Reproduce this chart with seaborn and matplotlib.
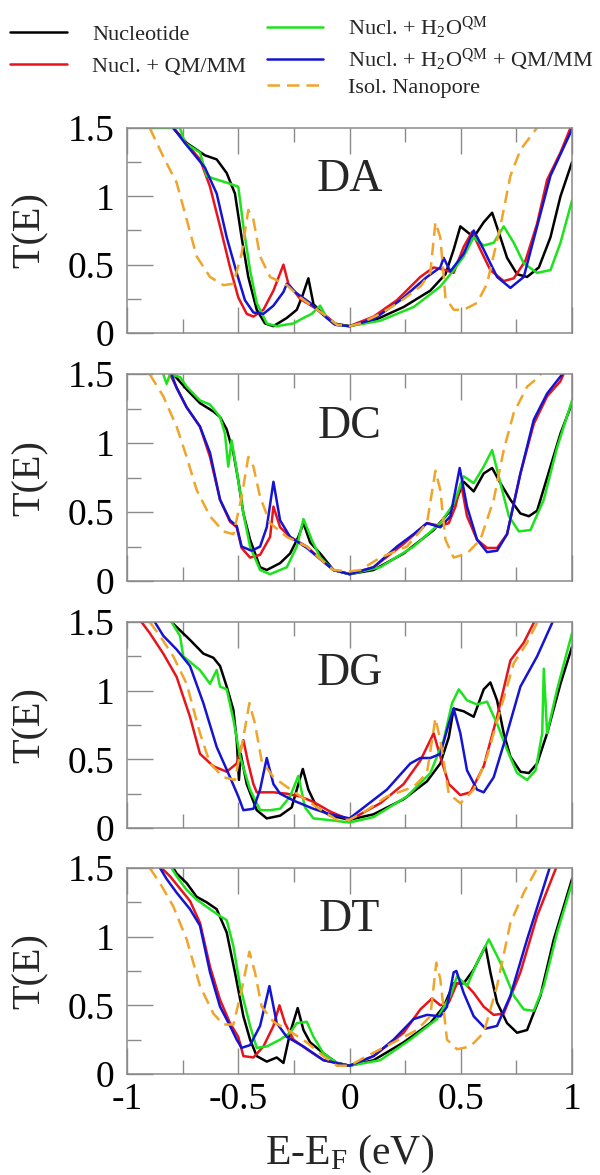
import matplotlib
matplotlib.use("Agg")
import matplotlib.pyplot as plt
from matplotlib.lines import Line2D
from matplotlib.ticker import MultipleLocator, FuncFormatter
import seaborn as sns

# ---- transmission curves (E-E_F in eV, T(E)) ----

# DA
da_nuc_x = [-0.792, -0.732, -0.650, -0.597, -0.552, -0.515, -0.485, -0.455, -0.417, -0.380, -0.342, -0.282, -0.237, -0.210, -0.185, -0.162, -0.125, -0.072, 0.0, 0.108, 0.243, 0.363, 0.431, 0.468, 0.498, 0.536, 0.558, 0.603, 0.641, 0.678, 0.708, 0.753, 0.798, 0.851, 0.903, 0.948, 1.0]
da_nuc_y = [1.50, 1.39, 1.30, 1.27, 1.17, 1.02, 0.70, 0.41, 0.17, 0.07, 0.05, 0.11, 0.17, 0.28, 0.40, 0.21, 0.15, 0.07, 0.05, 0.09, 0.19, 0.31, 0.43, 0.61, 0.78, 0.73, 0.70, 0.81, 0.88, 0.70, 0.55, 0.43, 0.41, 0.48, 0.70, 1.00, 1.25]
da_qmmm_x = [-0.792, -0.740, -0.672, -0.627, -0.582, -0.537, -0.500, -0.462, -0.432, -0.387, -0.342, -0.297, -0.275, -0.222, -0.162, -0.102, -0.057, 0.0, 0.108, 0.213, 0.318, 0.378, 0.431, 0.468, 0.513, 0.551, 0.588, 0.633, 0.693, 0.738, 0.791, 0.843, 0.888, 0.948, 0.993]
da_qmmm_y = [1.50, 1.40, 1.27, 1.07, 0.78, 0.48, 0.26, 0.14, 0.12, 0.17, 0.31, 0.50, 0.36, 0.25, 0.19, 0.12, 0.06, 0.05, 0.12, 0.24, 0.41, 0.48, 0.46, 0.44, 0.63, 0.74, 0.61, 0.46, 0.38, 0.40, 0.53, 0.80, 1.12, 1.32, 1.50]
da_h2o_x = [-0.898, -0.762, -0.740, -0.672, -0.642, -0.612, -0.552, -0.500, -0.477, -0.447, -0.417, -0.372, -0.327, -0.252, -0.207, -0.170, -0.132, -0.102, -0.057, 0.0, 0.138, 0.288, 0.408, 0.468, 0.513, 0.558, 0.603, 0.648, 0.693, 0.738, 0.783, 0.843, 0.903, 0.948, 1.0]
da_h2o_y = [1.50, 1.50, 1.39, 1.32, 1.15, 1.13, 1.10, 1.07, 0.78, 0.46, 0.22, 0.07, 0.05, 0.07, 0.11, 0.14, 0.20, 0.11, 0.06, 0.05, 0.09, 0.19, 0.34, 0.46, 0.56, 0.70, 0.64, 0.66, 0.78, 0.66, 0.51, 0.44, 0.46, 0.66, 0.97]
da_h2o_qmmm_x = [-0.792, -0.740, -0.650, -0.597, -0.552, -0.507, -0.470, -0.432, -0.387, -0.342, -0.297, -0.282, -0.237, -0.177, -0.117, -0.065, 0.0, 0.108, 0.228, 0.348, 0.408, 0.423, 0.453, 0.513, 0.558, 0.603, 0.663, 0.723, 0.783, 0.843, 0.903, 1.0]
da_h2o_qmmm_y = [1.50, 1.39, 1.21, 1.02, 0.70, 0.44, 0.24, 0.15, 0.14, 0.20, 0.30, 0.36, 0.29, 0.22, 0.13, 0.06, 0.05, 0.10, 0.24, 0.41, 0.48, 0.55, 0.45, 0.58, 0.75, 0.61, 0.41, 0.33, 0.41, 0.78, 1.15, 1.49]
da_pore_x = [-0.898, -0.837, -0.777, -0.732, -0.687, -0.627, -0.567, -0.522, -0.485, -0.455, -0.432, -0.402, -0.357, -0.282, -0.222, -0.162, -0.102, -0.057, 0.0, 0.048, 0.138, 0.228, 0.318, 0.363, 0.386, 0.408, 0.431, 0.468, 0.513, 0.573, 0.618, 0.678, 0.723, 0.768, 0.851]
da_pore_y = [1.50, 1.29, 1.10, 0.83, 0.56, 0.41, 0.35, 0.36, 0.58, 0.90, 0.83, 0.56, 0.41, 0.35, 0.26, 0.19, 0.12, 0.06, 0.05, 0.07, 0.14, 0.23, 0.34, 0.44, 0.81, 0.70, 0.26, 0.17, 0.17, 0.22, 0.36, 0.78, 1.15, 1.34, 1.52]

# DC
dc_nuc_x = [-0.792, -0.770, -0.732, -0.672, -0.612, -0.582, -0.552, -0.522, -0.500, -0.477, -0.447, -0.402, -0.372, -0.312, -0.267, -0.230, -0.207, -0.177, -0.132, -0.072, 0.0, 0.108, 0.243, 0.378, 0.453, 0.483, 0.513, 0.558, 0.603, 0.641, 0.678, 0.723, 0.768, 0.806, 0.843, 0.903, 0.948, 1.0]
dc_nuc_y = [1.50, 1.46, 1.39, 1.29, 1.23, 1.19, 1.10, 0.93, 0.73, 0.49, 0.30, 0.10, 0.08, 0.13, 0.20, 0.32, 0.42, 0.28, 0.20, 0.08, 0.05, 0.08, 0.20, 0.37, 0.51, 0.60, 0.72, 0.65, 0.78, 0.82, 0.71, 0.59, 0.49, 0.47, 0.51, 0.83, 1.07, 1.29]
dc_qmmm_x = [-0.807, -0.732, -0.672, -0.627, -0.582, -0.537, -0.507, -0.485, -0.447, -0.402, -0.357, -0.342, -0.312, -0.267, -0.192, -0.132, -0.072, 0.0, 0.108, 0.243, 0.348, 0.408, 0.446, 0.476, 0.501, 0.528, 0.573, 0.618, 0.663, 0.708, 0.768, 0.828, 0.888, 0.948, 0.975]
dc_qmmm_y = [1.50, 1.26, 1.12, 0.90, 0.59, 0.43, 0.39, 0.24, 0.17, 0.19, 0.32, 0.54, 0.39, 0.32, 0.25, 0.16, 0.08, 0.05, 0.10, 0.27, 0.42, 0.40, 0.42, 0.54, 0.71, 0.47, 0.30, 0.24, 0.24, 0.34, 0.78, 1.14, 1.34, 1.45, 1.55]
dc_h2o_x = [-0.837, -0.822, -0.807, -0.762, -0.732, -0.672, -0.627, -0.582, -0.560, -0.545, -0.530, -0.507, -0.477, -0.447, -0.402, -0.357, -0.282, -0.237, -0.207, -0.170, -0.132, -0.072, 0.0, 0.138, 0.288, 0.408, 0.468, 0.513, 0.558, 0.603, 0.641, 0.678, 0.716, 0.761, 0.813, 0.873, 0.933, 1.0]
dc_h2o_y = [1.50, 1.43, 1.50, 1.48, 1.41, 1.31, 1.28, 1.19, 1.07, 0.83, 1.02, 0.80, 0.49, 0.25, 0.08, 0.05, 0.10, 0.25, 0.45, 0.30, 0.17, 0.08, 0.05, 0.10, 0.25, 0.42, 0.56, 0.76, 0.71, 0.83, 0.95, 0.71, 0.47, 0.36, 0.37, 0.59, 0.97, 1.31]
dc_h2o_qmmm_x = [-0.800, -0.777, -0.732, -0.672, -0.627, -0.582, -0.537, -0.507, -0.485, -0.440, -0.402, -0.372, -0.342, -0.312, -0.267, -0.192, -0.132, -0.072, 0.0, 0.108, 0.213, 0.288, 0.348, 0.408, 0.453, 0.476, 0.495, 0.528, 0.573, 0.618, 0.663, 0.708, 0.768, 0.828, 0.888, 0.956]
dc_h2o_qmmm_y = [1.50, 1.40, 1.26, 1.12, 0.93, 0.59, 0.44, 0.40, 0.25, 0.22, 0.25, 0.39, 0.72, 0.44, 0.32, 0.24, 0.16, 0.08, 0.05, 0.10, 0.25, 0.34, 0.42, 0.39, 0.47, 0.66, 0.82, 0.54, 0.30, 0.21, 0.22, 0.34, 0.78, 1.17, 1.36, 1.50]
dc_pore_x = [-0.898, -0.837, -0.777, -0.732, -0.687, -0.627, -0.567, -0.522, -0.485, -0.455, -0.432, -0.402, -0.357, -0.282, -0.192, -0.117, -0.072, 0.0, 0.048, 0.138, 0.258, 0.348, 0.386, 0.408, 0.431, 0.468, 0.528, 0.588, 0.648, 0.693, 0.738, 0.798, 0.851, 0.870]
dc_pore_y = [1.50, 1.34, 1.12, 0.90, 0.66, 0.47, 0.36, 0.34, 0.61, 0.90, 0.83, 0.61, 0.42, 0.32, 0.25, 0.14, 0.08, 0.07, 0.08, 0.17, 0.25, 0.42, 0.80, 0.66, 0.30, 0.17, 0.20, 0.30, 0.59, 0.95, 1.22, 1.41, 1.48, 1.53]

# DG
dg_nuc_x = [-0.800, -0.762, -0.717, -0.657, -0.612, -0.582, -0.552, -0.522, -0.507, -0.497, -0.489, -0.462, -0.417, -0.372, -0.312, -0.260, -0.230, -0.210, -0.185, -0.147, -0.087, 0.0, 0.108, 0.243, 0.348, 0.408, 0.446, 0.468, 0.513, 0.558, 0.603, 0.633, 0.663, 0.693, 0.723, 0.768, 0.806, 0.843, 0.888, 0.948, 1.0]
dg_nuc_y = [1.50, 1.44, 1.37, 1.27, 1.24, 1.18, 1.03, 0.86, 0.64, 0.35, 0.54, 0.32, 0.13, 0.07, 0.09, 0.15, 0.32, 0.43, 0.28, 0.15, 0.09, 0.06, 0.10, 0.21, 0.34, 0.47, 0.66, 0.87, 0.85, 0.81, 1.01, 1.06, 0.93, 0.69, 0.52, 0.41, 0.40, 0.47, 0.69, 1.05, 1.32]
dg_qmmm_x = [-0.935, -0.898, -0.837, -0.777, -0.717, -0.672, -0.612, -0.552, -0.507, -0.477, -0.455, -0.432, -0.417, -0.342, -0.282, -0.222, -0.162, -0.087, 0.0, 0.048, 0.138, 0.243, 0.318, 0.378, 0.408, 0.446, 0.498, 0.543, 0.603, 0.663, 0.723, 0.783, 0.836]
dg_qmmm_y = [1.50, 1.42, 1.27, 1.10, 0.81, 0.54, 0.45, 0.41, 0.47, 0.64, 0.47, 0.32, 0.26, 0.26, 0.25, 0.23, 0.19, 0.12, 0.06, 0.10, 0.18, 0.32, 0.49, 0.69, 0.52, 0.32, 0.24, 0.26, 0.45, 0.81, 1.22, 1.35, 1.52]
dg_h2o_x = [-0.800, -0.762, -0.747, -0.717, -0.672, -0.627, -0.597, -0.582, -0.552, -0.522, -0.492, -0.447, -0.402, -0.357, -0.312, -0.267, -0.230, -0.200, -0.162, -0.102, 0.0, 0.108, 0.258, 0.363, 0.423, 0.461, 0.491, 0.528, 0.573, 0.618, 0.663, 0.708, 0.753, 0.798, 0.836, 0.866, 0.873, 0.888, 0.933, 1.0]
dg_h2o_y = [1.50, 1.40, 1.25, 1.21, 1.15, 1.05, 1.15, 1.03, 1.01, 0.79, 0.52, 0.28, 0.13, 0.13, 0.14, 0.23, 0.38, 0.15, 0.07, 0.06, 0.04, 0.08, 0.23, 0.40, 0.64, 0.91, 1.01, 0.93, 0.90, 0.92, 0.76, 0.57, 0.40, 0.35, 0.42, 0.69, 1.16, 0.69, 1.01, 1.42]
dg_h2o_qmmm_x = [-0.875, -0.837, -0.777, -0.717, -0.657, -0.597, -0.537, -0.500, -0.477, -0.432, -0.402, -0.372, -0.342, -0.312, -0.252, -0.162, -0.087, 0.0, 0.048, 0.168, 0.273, 0.318, 0.363, 0.408, 0.446, 0.468, 0.498, 0.528, 0.573, 0.603, 0.648, 0.708, 0.768, 0.843, 0.918]
dg_h2o_qmmm_y = [1.50, 1.40, 1.30, 1.18, 0.91, 0.59, 0.37, 0.23, 0.13, 0.14, 0.28, 0.51, 0.32, 0.25, 0.20, 0.14, 0.10, 0.07, 0.13, 0.28, 0.47, 0.51, 0.51, 0.54, 0.76, 0.87, 0.69, 0.42, 0.28, 0.26, 0.37, 0.69, 1.03, 1.25, 1.52]
dg_pore_x = [-0.898, -0.852, -0.792, -0.732, -0.672, -0.627, -0.567, -0.515, -0.477, -0.450, -0.425, -0.395, -0.342, -0.282, -0.192, -0.117, -0.057, 0.0, 0.078, 0.168, 0.288, 0.348, 0.386, 0.408, 0.446, 0.498, 0.558, 0.618, 0.678, 0.738, 0.798, 0.851]
dg_pore_y = [1.50, 1.40, 1.25, 1.05, 0.69, 0.47, 0.37, 0.35, 0.66, 0.91, 0.76, 0.49, 0.37, 0.30, 0.20, 0.12, 0.06, 0.06, 0.13, 0.23, 0.30, 0.40, 0.80, 0.64, 0.25, 0.18, 0.28, 0.52, 0.86, 1.20, 1.35, 1.52]

# DT
dt_nuc_x = [-0.792, -0.777, -0.732, -0.687, -0.642, -0.597, -0.552, -0.515, -0.477, -0.447, -0.417, -0.372, -0.327, -0.297, -0.267, -0.233, -0.207, -0.177, -0.117, -0.057, 0.0, 0.108, 0.243, 0.363, 0.423, 0.468, 0.513, 0.558, 0.611, 0.633, 0.663, 0.708, 0.753, 0.798, 0.858, 0.918, 1.0]
dt_nuc_y = [1.50, 1.46, 1.39, 1.29, 1.25, 1.20, 1.03, 0.74, 0.42, 0.25, 0.13, 0.09, 0.12, 0.08, 0.30, 0.48, 0.32, 0.23, 0.15, 0.08, 0.06, 0.10, 0.23, 0.37, 0.49, 0.66, 0.66, 0.76, 0.93, 0.74, 0.52, 0.37, 0.30, 0.32, 0.57, 0.98, 1.42]
dt_qmmm_x = [-0.845, -0.807, -0.762, -0.717, -0.672, -0.627, -0.582, -0.537, -0.500, -0.477, -0.432, -0.387, -0.342, -0.315, -0.290, -0.252, -0.192, -0.117, 0.0, 0.108, 0.243, 0.318, 0.371, 0.408, 0.446, 0.483, 0.513, 0.558, 0.603, 0.648, 0.693, 0.768, 0.843, 0.933]
dt_qmmm_y = [1.50, 1.44, 1.35, 1.26, 1.10, 0.78, 0.54, 0.37, 0.27, 0.13, 0.12, 0.20, 0.35, 0.50, 0.37, 0.25, 0.18, 0.10, 0.06, 0.13, 0.30, 0.47, 0.55, 0.50, 0.52, 0.66, 0.67, 0.59, 0.49, 0.43, 0.44, 0.74, 1.15, 1.52]
dt_h2o_x = [-0.800, -0.777, -0.732, -0.687, -0.627, -0.582, -0.552, -0.522, -0.492, -0.447, -0.417, -0.372, -0.312, -0.267, -0.237, -0.192, -0.162, -0.117, -0.057, 0.0, 0.138, 0.273, 0.393, 0.453, 0.483, 0.528, 0.573, 0.626, 0.678, 0.738, 0.783, 0.828, 0.873, 0.933, 1.0]
dt_h2o_y = [1.50, 1.44, 1.34, 1.27, 1.20, 1.15, 1.12, 0.93, 0.64, 0.35, 0.19, 0.20, 0.25, 0.30, 0.37, 0.38, 0.27, 0.15, 0.08, 0.06, 0.10, 0.25, 0.40, 0.57, 0.71, 0.64, 0.81, 0.98, 0.81, 0.57, 0.47, 0.46, 0.64, 1.03, 1.39]
dt_h2o_qmmm_x = [-0.852, -0.822, -0.777, -0.717, -0.672, -0.627, -0.582, -0.537, -0.507, -0.485, -0.447, -0.402, -0.360, -0.327, -0.282, -0.207, -0.117, 0.0, 0.108, 0.198, 0.288, 0.348, 0.408, 0.438, 0.468, 0.480, 0.513, 0.558, 0.611, 0.663, 0.723, 0.798, 0.903]
dt_h2o_qmmm_y = [1.50, 1.42, 1.32, 1.20, 1.08, 0.74, 0.49, 0.35, 0.25, 0.19, 0.21, 0.35, 0.64, 0.37, 0.27, 0.20, 0.10, 0.06, 0.13, 0.25, 0.40, 0.43, 0.42, 0.49, 0.74, 0.75, 0.59, 0.42, 0.33, 0.35, 0.57, 0.98, 1.52]
dt_pore_x = [-0.898, -0.852, -0.792, -0.732, -0.672, -0.612, -0.567, -0.522, -0.485, -0.450, -0.425, -0.395, -0.342, -0.267, -0.192, -0.117, -0.057, 0.0, 0.078, 0.198, 0.303, 0.363, 0.390, 0.408, 0.438, 0.483, 0.543, 0.603, 0.663, 0.723, 0.783, 0.851]
dt_pore_y = [1.50, 1.39, 1.22, 0.98, 0.64, 0.44, 0.36, 0.36, 0.61, 0.89, 0.74, 0.49, 0.38, 0.31, 0.23, 0.13, 0.06, 0.06, 0.13, 0.23, 0.32, 0.42, 0.81, 0.69, 0.25, 0.18, 0.20, 0.30, 0.64, 1.10, 1.32, 1.52]

panel_names = ["DA", "DC", "DG", "DT"]
series_labels = ["Nucleotide", "Nucl. + QM/MM", r"Nucl. + H$_2$O$^{\mathrm{QM}}$",
                 r"Nucl. + H$_2$O$^{\mathrm{QM}}$ + QM/MM", "Isol. Nanopore"]
series_colors = ["#000000", "#e8141b", "#1de31d", "#1414d2", "#f0a42a"]
series_styles = ["-", "-", "-", "-", (0, (5, 2.8))]

panels = [
    [(da_nuc_x, da_nuc_y), (da_qmmm_x, da_qmmm_y), (da_h2o_x, da_h2o_y), (da_h2o_qmmm_x, da_h2o_qmmm_y), (da_pore_x, da_pore_y)],
    [(dc_nuc_x, dc_nuc_y), (dc_qmmm_x, dc_qmmm_y), (dc_h2o_x, dc_h2o_y), (dc_h2o_qmmm_x, dc_h2o_qmmm_y), (dc_pore_x, dc_pore_y)],
    [(dg_nuc_x, dg_nuc_y), (dg_qmmm_x, dg_qmmm_y), (dg_h2o_x, dg_h2o_y), (dg_h2o_qmmm_x, dg_h2o_qmmm_y), (dg_pore_x, dg_pore_y)],
    [(dt_nuc_x, dt_nuc_y), (dt_qmmm_x, dt_qmmm_y), (dt_h2o_x, dt_h2o_y), (dt_h2o_qmmm_x, dt_h2o_qmmm_y), (dt_pore_x, dt_pore_y)],
]

# ---- style ----
sns.set_theme(style="white")
plt.rcParams["font.family"] = ["Liberation Serif", "DejaVu Serif"]
plt.rcParams["mathtext.fontset"] = "custom"
plt.rcParams["mathtext.rm"] = "Liberation Serif"
plt.rcParams["mathtext.it"] = "Liberation Serif:italic"
plt.rcParams["axes.unicode_minus"] = False

frame = "#8a8a8a"
fig = plt.figure(figsize=(6, 11.75), dpi=100)

# axes boxes (left, bottom, width, height) in figure fraction
boxes = [(0.2117, 0.7166, 0.7417, 0.1745),
         (0.2117, 0.5055, 0.7417, 0.1760),
         (0.2117, 0.2953, 0.7417, 0.1753),
         (0.2117, 0.0860, 0.7417, 0.1753)]

fmt = FuncFormatter(lambda v, p: "%g" % v)

for i, (name, curves) in enumerate(zip(panel_names, panels)):
    ax = fig.add_axes(boxes[i])
    for (x, y), col, ls in zip(curves, series_colors, series_styles):
        sns.lineplot(x=x, y=y, ax=ax, color=col, linewidth=1.8, linestyle=ls,
                     sort=False, estimator=None)
    ax.set_xlim(-1, 1)
    ax.set_ylim(0, 1.5)
    ax.xaxis.set_major_locator(MultipleLocator(0.5))
    ax.xaxis.set_minor_locator(MultipleLocator(0.25))
    ax.yaxis.set_major_locator(MultipleLocator(0.5))
    ax.yaxis.set_minor_locator(MultipleLocator(0.25))
    ax.xaxis.set_major_formatter(fmt)
    ax.yaxis.set_major_formatter(fmt)
    ax.tick_params(which="major", direction="in", length=19, width=1, color=frame,
                   top=True, bottom=True, left=True, right=False,
                   labelsize=27, pad=9, labelcolor="black")
    ax.tick_params(which="minor", direction="in", length=10, width=1, color=frame,
                   top=True, bottom=True, left=True, right=False)
    ax.tick_params(axis="x", pad=6)
    for sp in ax.spines.values():
        sp.set_color(frame)
        sp.set_linewidth(1.1)
    ax.set_ylabel("T(E)", fontsize=29)
    ax.yaxis.set_label_coords(-0.175, 0.5)
    ax.text(0.0, 1.04, name, fontsize=33, ha="center", va="baseline")
    if i < 3:
        ax.tick_params(axis="x", labelbottom=False)
        ax.set_xlabel("")
    else:
        ax.set_xlabel(r"E-E$_\mathrm{F}$ (eV)", fontsize=30)
        ax.xaxis.set_label_coords(0.5, -0.285)

# legend in two columns at the top
handles = [Line2D([], [], color=c, lw=1.8, linestyle=s) for c, s in zip(series_colors, series_styles)]
fig.legend(handles[:2], series_labels[:2], loc="upper left", bbox_to_anchor=(0.0167, 0.979),
           frameon=False, fontsize=16, handlelength=2.57, handletextpad=1.12,
           labelspacing=0.5, borderpad=0, borderaxespad=0)
fig.legend(handles[2:], series_labels[2:], loc="upper left", bbox_to_anchor=(0.445, 0.987),
           frameon=False, fontsize=16, handlelength=2.52, handletextpad=1.12,
           labelspacing=0.22, borderpad=0, borderaxespad=0)

fig.savefig("out.png", dpi=100)
